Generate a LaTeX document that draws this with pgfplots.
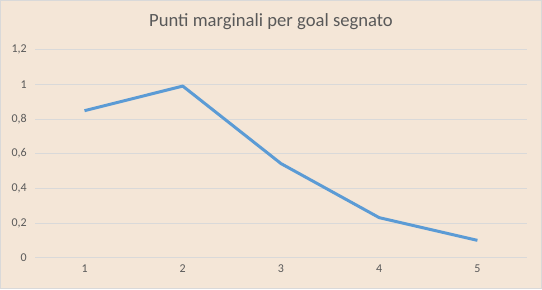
\documentclass[border=0pt]{standalone}
\usepackage{pgfplots}
\pgfplotsset{compat=1.18}
\usepackage{fontspec}
\setmainfont{Carlito}
\definecolor{bg}{RGB}{244,230,215}
\definecolor{linec}{RGB}{91,155,213}
\definecolor{gridc}{RGB}{217,217,217}
\definecolor{txt}{RGB}{89,89,89}
\begin{document}
\begin{tikzpicture}
\fill[bg,draw=gridc,line width=0.75pt] (-26.25pt,-23.5pt) rectangle (380.25pt,193.25pt);
\begin{axis}[
  at={(0,0)}, anchor=south west,
  scale only axis, width=369pt, height=156.3pt,
  xmin=0.5, xmax=5.5, ymin=0, ymax=1.2,
  xtick={1,2,3,4,5},
  ytick={0,0.2,0.4,0.6,0.8,1,1.2},
  /pgf/number format/assume math mode=true,
  /pgf/number format/use comma,
  axis line style={draw=none},
  major tick length=0pt,
  ymajorgrids, grid style={gridc, line width=0.75pt},
  ticklabel style={font=\fontsize{9}{11}\selectfont, text=txt},
  yticklabel style={xshift=-3pt},
  xticklabel style={yshift=-2pt},
  title={Punti marginali per goal segnato},
  title style={at={(rel axis cs:0.5,1)}, anchor=center, yshift=15pt, xshift=-7.5pt,
    font=\fontsize{14}{16}\selectfont, text=txt},
]
\addplot[linec, line width=2.25pt, line join=round, no markers] coordinates {
  (1,0.848) (2,0.99) (3,0.543) (4,0.231) (5,0.100)
};
\end{axis}
\end{tikzpicture}
\end{document}
